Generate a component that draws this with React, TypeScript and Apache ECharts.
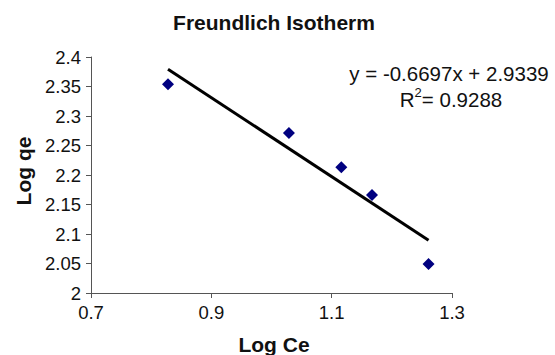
import React, { useEffect, useRef } from "react";
import * as echarts from "echarts";

const logCe = [0.828, 1.029, 1.116, 1.167, 1.261];
const logQe = [2.354, 2.271, 2.213, 2.166, 2.049];
const slope = -0.6697;
const intercept = 2.9339;
const rSquared = 0.9288;
const titleText = "Freundlich Isotherm";
const xTitle = "Log Ce";
const yTitle = "Log qe";
const xRange = [0.7, 1.3, 0.2];
const yRange = [2, 2.4, 0.05];

const FONT = "'Liberation Sans', Arial, sans-serif";

export default function App() {
  const ref = useRef<HTMLDivElement>(null);
  useEffect(() => {
    if (!ref.current) return;
    const chart = echarts.init(ref.current, null, { renderer: "svg" });
    const points = logCe.map((x, i) => [x, logQe[i]]);
    const xMin = Math.min(...logCe);
    const xMax = Math.max(...logCe);
    const trend = [
      [xMin, slope * xMin + intercept],
      [xMax, slope * xMax + intercept],
    ];
    const eq = `y = ${slope}x + ${intercept}`;
    chart.setOption({
      animation: false,
      backgroundColor: "#ffffff",
      textStyle: { fontFamily: FONT },
      grid: { left: 91, right: 103, top: 57, bottom: 62, containLabel: false },
      xAxis: {
        type: "value",
        min: xRange[0],
        max: xRange[1],
        interval: xRange[2],
        axisLine: { show: true, lineStyle: { color: "#555555", width: 1 } },
        axisTick: { show: true, inside: false, length: 5, lineStyle: { color: "#555555" } },
        splitLine: { show: false },
        axisLabel: {
          margin: 10,
          color: "#111111",
          fontSize: 18.5,
          fontFamily: FONT,
          formatter: (v: number) => String(+v.toFixed(2)),
        },
      },
      yAxis: {
        type: "value",
        min: yRange[0],
        max: yRange[1],
        interval: yRange[2],
        axisLine: { show: true, lineStyle: { color: "#555555", width: 1 } },
        axisTick: { show: true, inside: false, length: 5, lineStyle: { color: "#555555" } },
        splitLine: { show: false },
        axisLabel: {
          margin: 10,
          color: "#111111",
          fontSize: 18.5,
          fontFamily: FONT,
          formatter: (v: number) => String(+v.toFixed(2)),
        },
      },
      series: [
        {
          type: "line",
          data: trend,
          symbol: "none",
          lineStyle: { color: "#000000", width: 3 },
          z: 2,
        },
        {
          type: "scatter",
          data: points,
          symbol: "diamond",
          symbolSize: 12,
          itemStyle: { color: "#000080", opacity: 1 },
          z: 3,
        },
      ],
      graphic: [
        {
          type: "text",
          x: 274,
          y: 22,
          style: {
            text: titleText,
            fontFamily: FONT,
            fontWeight: "bold",
            fontSize: 21,
            fill: "#111111",
            textAlign: "center",
            textVerticalAlign: "middle",
          },
        },
        {
          type: "text",
          x: 274,
          y: 344,
          style: {
            text: xTitle,
            fontFamily: FONT,
            fontWeight: "bold",
            fontSize: 21,
            fill: "#111111",
            textAlign: "center",
            textVerticalAlign: "middle",
          },
        },
        {
          type: "text",
          x: 23,
          y: 171,
          rotation: Math.PI / 2,
          style: {
            text: yTitle,
            fontFamily: FONT,
            fontWeight: "bold",
            fontSize: 21,
            fill: "#111111",
            textAlign: "center",
            textVerticalAlign: "middle",
          },
        },
        {
          type: "text",
          x: 449,
          y: 73,
          style: {
            text: eq,
            fontFamily: FONT,
            fontSize: 20.5,
            fill: "#111111",
            textAlign: "center",
            textVerticalAlign: "middle",
          },
        },
        {
          type: "text",
          x: 451,
          y: 98,
          style: {
            text: `{r|R}{s|2}{r|= ${rSquared}}`,
            textAlign: "center",
            textVerticalAlign: "middle",
            rich: {
              r: { fontFamily: FONT, fontSize: 20.5, fill: "#111111", verticalAlign: "bottom", lineHeight: 24 },
              s: { fontFamily: FONT, fontSize: 13, fill: "#111111", verticalAlign: "top", lineHeight: 24 },
            },
          },
        },
      ],
    });
    return () => chart.dispose();
  }, []);
  return (
    <div
      ref={ref}
      style={{ position: "absolute", left: 0, top: 0, width: 555, height: 355 }}
    />
  );
}
